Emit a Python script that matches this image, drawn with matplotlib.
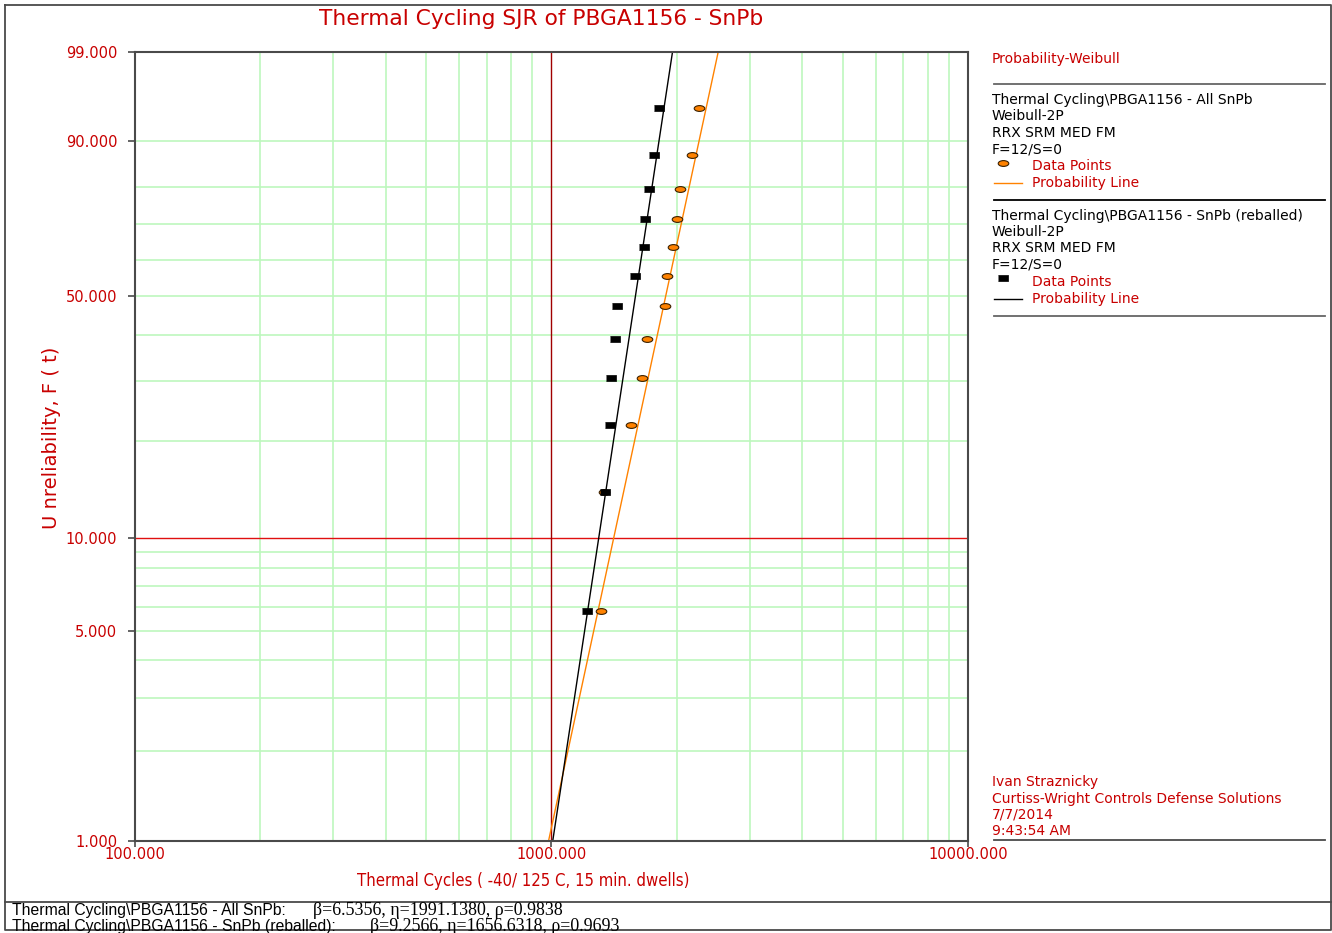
import numpy as np
import matplotlib
matplotlib.use("Agg")
import matplotlib.pyplot as plt
from matplotlib.path import Path
from matplotlib.transforms import Affine2D
from matplotlib.ticker import FixedLocator, NullFormatter, NullLocator

# unreliability plotting positions (%) for the 12 failures
unrel = [5.8, 14.0, 22.4, 30.7, 39.0, 47.1, 55.4, 63.5, 71.5, 79.5, 87.4, 94.9]
# cycles to failure
cyc_all = [1316, 1338, 1551, 1651, 1700, 1871, 1898, 1956, 2006, 2033, 2176, 2258]
cyc_reb = [1216, 1348, 1383, 1391, 1422, 1440, 1588, 1669, 1681, 1713, 1761, 1816]

# Weibull-2P fits (RRX)
beta_all, eta_all, rho_all = 6.5356, 1991.1380, 0.9838
beta_reb, eta_reb, rho_reb = 9.2566, 1656.6318, 0.9693

yticks = [1, 5, 10, 50, 90, 99]
ygrid = [2, 3, 4, 5, 6, 7, 8, 9, 20, 30, 40, 50, 60, 70, 80, 90]
xticks = [100, 1000, 10000]
xgrid = [200, 300, 400, 500, 600, 700, 800, 900,
         2000, 3000, 4000, 5000, 6000, 7000, 8000, 9000]

RED = "#c80000"
GRN = "#bdf7bd"
ORANGE = "#ff8200"
FRAME = "#4a4a4a"
W, H = 1332, 933
AX_L, AX_R, AX_T, AX_B = 134.7, 968.0, 51.7, 840.7


def wb_fwd(p):
    p = np.clip(np.asarray(p, dtype=float), 1e-6, 100 - 1e-6)
    return np.log(-np.log(1 - p / 100.0))


def wb_inv(w):
    return 100.0 * (1 - np.exp(-np.exp(np.asarray(w, dtype=float))))


def wb_line(beta, eta):
    F = np.linspace(1, 99, 300)
    t = eta * (-np.log(1 - F / 100.0)) ** (1.0 / beta)
    return t, F


def ax_frac(px, py):
    return (px - AX_L) / (AX_R - AX_L), (AX_B - py) / (AX_B - AX_T)


ell = Path.unit_circle().transformed(Affine2D().scale(1.0, 0.55))
rect = [(-1, -0.5), (1, -0.5), (1, 0.5), (-1, 0.5)]

fig = plt.figure(figsize=(W / 100, H / 100), dpi=100)
ax = fig.add_axes([AX_L / W, 1 - AX_B / H, (AX_R - AX_L) / W, (AX_B - AX_T) / H])

ax.set_xscale("log")
ax.set_yscale("function", functions=(wb_fwd, wb_inv))
ax.set_xlim(100, 10000)
ax.set_ylim(1, 99)

# grid
for g in xgrid:
    ax.axvline(g, color=GRN, lw=1.2, zorder=1)
for g in ygrid:
    ax.axhline(g, color=GRN, lw=1.2, zorder=1)
ax.axhline(10, color="#e01010", lw=1.0, zorder=2)
ax.axvline(1000, color="#a00000", lw=1.0, zorder=2)

# probability lines
t, F = wb_line(beta_all, eta_all)
ax.plot(t, F, color=ORANGE, lw=1.0, zorder=3)
t, F = wb_line(beta_reb, eta_reb)
ax.plot(t, F, color="black", lw=1.0, zorder=3)

# data points
ax.plot(cyc_all, unrel, ls="none", marker=ell, ms=7.6, mfc=ORANGE,
        mec="#3a2000", mew=0.8, zorder=4)
ax.plot(cyc_reb, unrel, ls="none", marker=rect, ms=7.4, mfc="black",
        mec="black", mew=0.5, zorder=5)

ax.xaxis.set_major_locator(FixedLocator(xticks))
ax.xaxis.set_minor_locator(NullLocator())
ax.set_xticklabels(["100.000", "1000.000", "10000.000"])
ax.yaxis.set_major_locator(FixedLocator(yticks))
ax.yaxis.set_minor_locator(NullLocator())
ax.yaxis.set_minor_formatter(NullFormatter())
ax.set_yticklabels(["%.3f" % v for v in yticks])
ax.tick_params(axis="both", colors=FRAME, labelcolor=RED, labelsize=10.5,
               width=1.2)
ax.tick_params(axis="y", length=5, pad=7.5)
ax.tick_params(axis="x", length=4, pad=0.5)

for s in ax.spines.values():
    s.set_color(FRAME)
    s.set_linewidth(1.5)
    s.set_zorder(6)

ax.set_xlabel("Thermal Cycles ( -40/ 125 C, 15 min. dwells)", color=RED,
              fontsize=12, fontstretch="condensed", va="center")
ax.xaxis.set_label_coords(*ax_frac(523, 880.7))
ax.set_ylabel("U nreliability, F ( t)", color=RED, fontsize=14, va="center")
ax.yaxis.set_label_coords(*ax_frac(52, 437.5))

# overlay in pixel coordinates for title, side panel and footer
ov = fig.add_axes([0, 0, 1, 1], zorder=-1)
ov.set_xlim(0, W)
ov.set_ylim(H, 0)
ov.axis("off")

ov.plot([5.3, 1330.7, 1330.7, 5.3, 5.3], [5.3, 5.3, 930, 930, 5.3],
        color=FRAME, lw=1.3)
ov.plot([5.3, 1330.7], [901.7, 901.7], color=FRAME, lw=1.3)

ov.text(541, 19, "Thermal Cycling SJR of PBGA1156 - SnPb", color=RED,
        fontsize=15.7, ha="center", va="center")

side = dict(fontsize=10, va="center", ha="left")
ov.text(992, 59.5, "Probability-Weibull", color=RED, **side)
ov.plot([994, 1325], [84.3, 84.3], color="#666666", lw=1.3)

blocks = [
    (100, "Thermal Cycling\\PBGA1156 - All SnPb", "o", ORANGE),
    (215.7, "Thermal Cycling\\PBGA1156 - SnPb (reballed)", "s", "black"),
]
for y0, name, mk, col in blocks:
    ov.text(992, y0, name, color="black", **side)
    ov.text(992, y0 + 16.5, "Weibull-2P", color="black", **side)
    ov.text(992, y0 + 32.8, "RRX SRM MED FM", color="black", **side)
    ov.text(992, y0 + 49.3, "F=12/S=0", color="black", **side)
    if mk == "o":
        ov.plot([1003], [y0 + 62.7], ls="none", marker=ell, ms=7.6, mfc=ORANGE,
                mec="#3a2000", mew=0.8)
    else:
        ov.plot([1003], [y0 + 62], ls="none", marker=rect, ms=7.4, mfc="black",
                mec="black", mew=0.5)
    ov.text(1032.5, y0 + 66, "Data Points", color=RED, **side)
    ov.plot([994, 1021.7], [y0 + 83.3, y0 + 83.3], color=col, lw=1.0)
    ov.text(1032.5, y0 + 83, "Probability Line", color=RED, **side)
ov.plot([994, 1325], [200.3, 200.3], color="black", lw=1.3)
ov.plot([994, 1325], [315.7, 315.7], color="#666666", lw=1.3)

for i, s in enumerate(["Ivan Straznicky",
                       "Curtiss-Wright Controls Defense Solutions",
                       "7/7/2014", "9:43:54 AM"]):
    ov.text(992, 782.3 + i * 16.3, s, color=RED, **side)
ov.plot([994, 1325], [840.3, 840.3], color=FRAME, lw=1.3)

# footer with fitted parameters (second row runs under the frame)
foot = [
    ("Thermal Cycling\\PBGA1156 - All SnPb:", 313, beta_all, eta_all, rho_all),
    ("Thermal Cycling\\PBGA1156 - SnPb (reballed):", 370, beta_reb, eta_reb, rho_reb),
]
clip = plt.Rectangle((5.3, 902.5), 1325, 27.0, transform=ov.transData)
for i, (name, xp, b, e, r) in enumerate(foot):
    y = 915 + i * 16
    t1 = ov.text(12, y, name, color="black", fontsize=11.3,
                 family="Liberation Sans", va="baseline", ha="left")
    t2 = ov.text(xp, y, "\u03b2=%.4f, \u03b7=%.4f, \u03c1=%.4f" % (b, e, r),
                 color="black", fontsize=12.9, family="Liberation Serif",
                 va="baseline", ha="left")
    t1.set_clip_path(clip)
    t2.set_clip_path(clip)

fig.savefig("out.png", dpi=100, facecolor="white")
